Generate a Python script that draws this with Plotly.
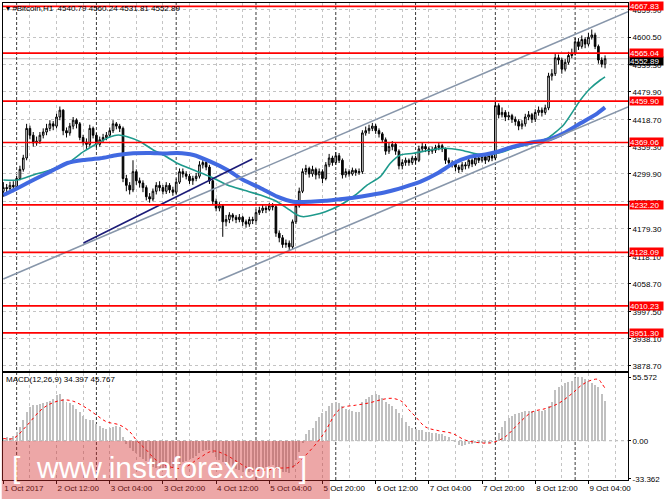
import plotly.graph_objects as go
from datetime import datetime, timedelta

# ---------------- data ----------------
start_time = datetime(2017, 10, 1, 20, 0)   # first H1 bar
first_open = 4262

closes = [4270, 4268, 4275, 4272, 4290, 4310, 4335, 4400, 4385, 4368,
          4372, 4385, 4392, 4400, 4410, 4405, 4425, 4440, 4395, 4390,
          4405, 4418, 4410, 4380, 4370, 4365, 4400, 4385, 4365, 4375,
          4380, 4385, 4395, 4410, 4405, 4400, 4290, 4275, 4265, 4305,
          4285, 4280, 4270, 4250, 4245, 4262, 4275, 4270, 4262, 4275,
          4265, 4260, 4282, 4305, 4300, 4295, 4285, 4290, 4295, 4320,
          4325, 4315, 4285, 4240, 4225, 4230, 4195, 4200, 4210, 4205,
          4200, 4205, 4195, 4190, 4200, 4198, 4215, 4220, 4225, 4222,
          4230, 4228, 4170, 4160, 4145, 4148, 4140, 4195, 4230, 4262,
          4305, 4312, 4300, 4310, 4298, 4305, 4290, 4320, 4335, 4325,
          4340, 4330, 4298, 4305, 4300, 4308, 4303, 4305, 4390, 4395,
          4400, 4405, 4395, 4388, 4375, 4350, 4360, 4365, 4350, 4318,
          4325, 4330, 4325, 4335, 4330, 4355, 4360, 4355, 4350, 4352,
          4358, 4362, 4355, 4330, 4325, 4322, 4315, 4310, 4320, 4318,
          4330, 4322, 4335, 4330, 4338, 4330, 4340, 4335, 4450, 4430,
          4435, 4425, 4428, 4420, 4415, 4405, 4410, 4425, 4430, 4420,
          4435, 4440, 4435, 4445, 4515, 4520, 4555, 4550, 4530, 4545,
          4560, 4565, 4590, 4580, 4595, 4585, 4600, 4605, 4580, 4550,
          4540.79, 4552.89]

highs = [4282, 4278, 4283, 4284, 4296, 4318, 4342, 4410, 4406, 4392,
         4382, 4392, 4400, 4410, 4418, 4416, 4432, 4448, 4442, 4402,
         4412, 4425, 4422, 4414, 4386, 4378, 4408, 4404, 4390, 4382,
         4388, 4392, 4402, 4418, 4414, 4410, 4404, 4298, 4282, 4330,
         4310, 4292, 4286, 4275, 4258, 4268, 4282, 4284, 4276, 4282,
         4280, 4272, 4290, 4312, 4312, 4306, 4300, 4296, 4302, 4328,
         4334, 4330, 4320, 4288, 4246, 4238, 4234, 4210, 4216, 4214,
         4210, 4212, 4208, 4200, 4206, 4206, 4222, 4228, 4232, 4230,
         4236, 4236, 4232, 4176, 4166, 4156, 4154, 4200, 4236, 4270,
         4312, 4320, 4316, 4318, 4314, 4312, 4310, 4326, 4344, 4340,
         4348, 4346, 4334, 4312, 4310, 4314, 4312, 4312, 4396, 4404,
         4408, 4412, 4410, 4400, 4392, 4380, 4368, 4372, 4370, 4354,
         4332, 4336, 4334, 4340, 4340, 4362, 4368, 4366, 4360, 4360,
         4364, 4368, 4366, 4358, 4336, 4330, 4328, 4320, 4326, 4326,
         4336, 4334, 4340, 4340, 4344, 4342, 4346, 4344, 4460, 4455,
         4446, 4440, 4436, 4432, 4426, 4420, 4418, 4432, 4438, 4434,
         4442, 4448, 4446, 4452, 4522, 4530, 4565, 4562, 4555, 4552,
         4568, 4575, 4600, 4598, 4604, 4600, 4610, 4617, 4610, 4584,
         4556, 4560.24]

lows = [4250, 4258, 4262, 4260, 4266, 4286, 4305, 4330, 4376, 4360,
        4362, 4366, 4378, 4385, 4394, 4396, 4400, 4418, 4385, 4380,
        4384, 4398, 4400, 4374, 4362, 4355, 4360, 4378, 4358, 4360,
        4368, 4374, 4380, 4390, 4398, 4392, 4282, 4262, 4255, 4260,
        4276, 4270, 4260, 4242, 4237, 4240, 4255, 4262, 4255, 4256,
        4258, 4252, 4256, 4278, 4292, 4288, 4278, 4276, 4284, 4290,
        4312, 4308, 4278, 4232, 4218, 4218, 4162, 4185, 4192, 4196,
        4192, 4194, 4186, 4182, 4184, 4190, 4194, 4210, 4214, 4214,
        4218, 4220, 4162, 4150, 4138, 4138, 4132, 4135, 4190, 4226,
        4258, 4298, 4292, 4294, 4288, 4290, 4280, 4286, 4315, 4318,
        4320, 4324, 4290, 4292, 4294, 4296, 4296, 4298, 4300, 4384,
        4388, 4394, 4388, 4380, 4368, 4342, 4344, 4352, 4342, 4310,
        4310, 4318, 4318, 4320, 4322, 4326, 4348, 4348, 4342, 4344,
        4346, 4352, 4348, 4322, 4318, 4314, 4306, 4302, 4304, 4310,
        4312, 4315, 4318, 4324, 4325, 4322, 4326, 4328, 4330, 4422,
        4424, 4416, 4418, 4412, 4406, 4396, 4398, 4404, 4418, 4412,
        4414, 4428, 4426, 4430, 4440, 4505, 4515, 4540, 4520, 4525,
        4540, 4554, 4560, 4572, 4575, 4576, 4580, 4595, 4574, 4542,
        4534, 4531.81]

opens = [first_open] + closes[:-1]

# moving averages (bar index, price)
ma_slow_idx = [0, 2.1, 5.1, 9.0, 14.1, 19.3, 24.1, 29.2, 34.3, 39.1, 44.2, 48.7, 52.3,
               57.2, 62.3, 67.4, 72.2, 77.3, 82.4, 87.2, 92.4, 96.9, 100.5, 105.3, 110.4,
               115.5, 120.3, 125.5, 130.6, 135.4, 140.5, 145.0, 148.6, 153.4, 158.5,
               163.7, 168.5, 173.6, 178.7, 181]
ma_slow_val = [4253.8, 4261.0, 4272.0, 4286.7, 4305.0, 4324.0, 4330.6, 4334.4, 4341.6,
               4345.3, 4346.0, 4345.0, 4346.0, 4341.6, 4326.9, 4308.7, 4286.7, 4269.2,
               4250.1, 4239.1, 4239.1, 4241.0, 4243.9, 4247.9, 4253.8, 4261.0, 4270.7,
               4283.0, 4301.4, 4323.4, 4337.9, 4342.7, 4348.8, 4359.8, 4368.6, 4374.5,
               4389.2, 4411.2, 4433.1, 4446.0]

ma_fast_idx = [0, 4.2, 9.0, 14.1, 19.3, 24.1, 29.2, 32.2, 34.6, 37.3, 41.2, 45.1, 48.7,
               52.3, 57.2, 62.3, 67.4, 72.2, 77.3, 82.4, 85.4, 88.4, 90.3, 93.3, 96.9,
               101.4, 105.9, 109.5, 113.4, 116.4, 119.4, 123.3, 128.5, 132.4, 137.5,
               141.4, 145.0, 148.6, 153.4, 159.4, 163.7, 168.5, 173.6, 176.6, 179.6, 181]
ma_fast_val = [4286.7, 4286.7, 4297.7, 4308.7, 4323.4, 4348.9, 4370.8, 4381.8, 4385.5,
               4381.8, 4370.8, 4352.6, 4339.4, 4323.4, 4308.7, 4294.0, 4275.8, 4264.8,
               4253.8, 4239.1, 4224.6, 4209.9, 4206.2, 4209.9, 4217.2, 4231.9, 4253.8,
               4275.8, 4294.0, 4323.4, 4341.6, 4345.3, 4352.6, 4356.3, 4352.6, 4345.3,
               4341.6, 4345.3, 4356.3, 4367.3, 4378.3, 4407.5, 4462.3, 4488.0, 4506.2,
               4513.0]

# MACD(12,26,9) main values (histogram) and signal line
macd = [2, 3, 2, 4, 8, 12, 18, 25, 29, 31,
        31, 32, 33, 34, 35, 36, 40, 41, 36, 34,
        33, 31, 28, 25, 22, 19, 18, 18, 15, 13,
        11, 10, 11, 12, 13, 12, 3, -3, -6, -9,
        -11, -14, -16, -18, -21, -23, -24, -25, -26, -26,
        -25, -24, -22, -21, -19, -18, -16, -15, -13, -11,
        -9, -8, -8, -11, -14, -17, -19, -21, -23, -24,
        -25, -26, -27, -27, -27, -27, -26, -26, -24, -23,
        -22, -21, -24, -26, -27, -27, -28, -24, -17, -10,
        -2, 6, 9, 11, 17, 21, 24, 26, 30, 33,
        34, 33, 30, 28, 27, 26, 25, 25, 34, 36,
        38, 40, 41, 40, 37, 34, 32, 30, 28, 24,
        20, 16, 13, 11, 10, 9, 9, 8, 8, 7,
        7, 6, 6, 4, 3, 1, -1, -4, -5, -4,
        -3, -3, -2, -2, -2, -2, -2, -1, 0, 7,
        12, 17, 20, 22, 23, 24, 25, 26, 26, 26,
        26, 26, 26, 27, 30, 34, 44, 47, 48, 50,
        51, 52, 55, 55.5, 55.6, 54, 52, 50, 49, 47,
        41, 34.397]

signal_idx = [0, 3, 7, 11, 14, 18, 21, 25, 28, 31, 35, 38, 40, 43, 46, 50, 54, 59, 63,
              67, 71, 75, 79, 83, 87, 91, 95, 97, 100, 102, 106, 110, 114, 117, 120,
              122, 124, 127, 131, 135, 139, 143, 147, 151, 155, 159, 163, 167, 171,
              174, 177, 179, 180, 181]
signal_val = [2, 2, 13, 26, 32, 35.5, 34.5, 28.5, 22.4, 16.6, 13.7, 7.9, 0.6, -8, -17,
              -22.7, -24, -15, -9, -12.5, -19.5, -25.6, -25.6, -24, -22.7, -12.5, 0.6,
              9, 24, 29, 31, 33, 36, 37, 34, 27, 21, 12, 8.7, 6.4, 0.5, -1.7, -1.7, 3.5,
              15, 25, 28, 32.6, 41, 48.6, 53, 53.5, 50, 45.767]

# horizontal levels and trend lines (bar index, price)
levels = [4667.83, 4565.04, 4459.90, 4369.06, 4232.20, 4128.09, 4010.23, 3951.30]
channel_upper_idx = [0, 187.9]
channel_upper_val = [4069.4, 4656.1]
channel_lower_idx = [64.7, 187.9]
channel_lower_val = [4066.0, 4447.0]
support_idx = [24.1, 74.9]
support_val = [4148.5, 4332.8]

price_ticks = [4659.90, 4600.50, 4539.30, 4479.90, 4418.70, 4359.30, 4299.90, 4238.70,
               4179.30, 4118.10, 4058.70, 3997.50, 3938.10, 3878.70]
macd_ticks = [55.572, 0.0, -33.362]
macd_ticktext = ["55.572", "0.00", "-33.362"]

# ---------------- figure ----------------
n = len(closes)
idx = list(range(n))

label_idx = list(range(0, 188, 16))
label_txt = []
for i in label_idx:
    t = start_time + timedelta(hours=i)
    if i == 0:
        label_txt.append(f"{t.day} {t.strftime('%b')} {t.year}")
    else:
        label_txt.append(f"{t.day} {t.strftime('%b')} {t.strftime('%H:%M')}")
minor_idx = list(range(8, 188, 16))
day_seps = [i for i in range(0, 188) if (start_time + timedelta(hours=i)).hour == 0]

FONT = "Liberation Sans"
FS = 8
GRID = "#C4C4C4"

fig = go.Figure()

fig.add_trace(go.Candlestick(
    x=idx, open=opens, high=highs, low=lows, close=closes,
    increasing=dict(fillcolor="white", line=dict(color="black", width=1)),
    decreasing=dict(fillcolor="black", line=dict(color="black", width=1)),
    whiskerwidth=0, xaxis="x", yaxis="y", showlegend=False, hoverinfo="skip"))

fig.add_trace(go.Scatter(x=ma_fast_idx, y=ma_fast_val, mode="lines",
                         line=dict(color="#1E9A8C", width=1.6, shape="spline", smoothing=0.6),
                         xaxis="x", yaxis="y", showlegend=False, hoverinfo="skip"))
fig.add_trace(go.Scatter(x=ma_slow_idx, y=ma_slow_val, mode="lines",
                         line=dict(color="#4169E1", width=4, shape="spline", smoothing=0.6),
                         xaxis="x", yaxis="y", showlegend=False, hoverinfo="skip"))

for xs, ys, col in [(channel_upper_idx, channel_upper_val, "#8796AA"),
                    (channel_lower_idx, channel_lower_val, "#8796AA"),
                    (support_idx, support_val, "#1C1C78")]:
    fig.add_trace(go.Scatter(x=xs, y=ys, mode="lines", line=dict(color=col, width=1.6),
                             xaxis="x", yaxis="y", showlegend=False, hoverinfo="skip"))

fig.add_trace(go.Bar(x=idx, y=macd, width=0.6, marker=dict(color="#C0C0C0", line=dict(width=0)),
                     xaxis="x2", yaxis="y2", showlegend=False, hoverinfo="skip"))
fig.add_trace(go.Scatter(x=signal_idx, y=signal_val, mode="lines",
                         line=dict(color="#FF0000", width=1, dash="dot", shape="spline"),
                         xaxis="x2", yaxis="y2", showlegend=False, hoverinfo="skip"))

shapes = []
for lv in levels:
    shapes.append(dict(type="line", xref="x domain", x0=0, x1=1, yref="y", y0=lv, y1=lv,
                       line=dict(color="#FF0000", width=1.7), layer="above"))
shapes.append(dict(type="line", xref="x domain", x0=0, x1=1, yref="y", y0=closes[-1], y1=closes[-1],
                   line=dict(color="#C0C0C0", width=1), layer="below"))
for d in day_seps:
    shapes.append(dict(type="line", xref="x", x0=d, x1=d, yref="paper", y0=0, y1=1,
                       line=dict(color="#3A3A3A", width=1, dash="3px,2px"), layer="below"))
shapes.append(dict(type="line", xref="x2 domain", x0=0, x1=1, yref="y2", y0=0, y1=0,
                   line=dict(color="#B0B0B0", width=1, dash="dot"), layer="below"))
# watermark band
shapes.append(dict(type="rect", xref="paper", x0=-0.002, x1=0.523, yref="paper", y0=-0.04, y1=0.0818,
                   fillcolor="rgba(212,45,45,0.42)", line=dict(width=0), layer="above"))

annotations = []
annotations.append(dict(xref="paper", yref="paper", x=0, y=1, xanchor="left", yanchor="top",
                        xshift=1, yshift=1, showarrow=False,
                        text="▾ #Bitcoin,H1  4540.79 4560.24 4531.81 4552.89",
                        font=dict(family=FONT, size=FS, color="black")))
annotations.append(dict(xref="paper", yref="paper", x=0, y=0.2243, xanchor="left", yanchor="top",
                        xshift=1, yshift=0, showarrow=False,
                        text="MACD(12,26,9) 34.397 45.767",
                        font=dict(family=FONT, size=FS, color="black")))
# current price box (drawn first so the level boxes sit on top of it)
annotations.append(dict(xref="paper", yref="y", x=1, y=closes[-1], xanchor="left", yanchor="middle",
                        xshift=1, yshift=-2, showarrow=False, text=f"{closes[-1]:.2f}", bgcolor="#000000",
                        width=33, height=8, align="left", valign="middle", borderpad=0,
                        font=dict(family=FONT, size=FS, color="white")))
for lv in levels:
    annotations.append(dict(xref="paper", yref="y", x=1, y=lv, xanchor="left", yanchor="middle",
                            xshift=1, showarrow=False, text=f"{lv:.2f}", bgcolor="#FF0000",
                            width=33, height=8, align="left", valign="middle", borderpad=0,
                            font=dict(family=FONT, size=FS, color="white")))
annotations.append(dict(xref="paper", yref="paper", x=0.25, y=0.026, xanchor="center", yanchor="middle",
                        showarrow=False,
                        text="[&nbsp;&nbsp;www.instaforex<span style='font-size:20px'>.com</span>&nbsp;&nbsp;]",
                        font=dict(family=FONT, size=30, color="white")))

axis_common = dict(showline=True, mirror=True, linecolor="black", linewidth=1, zeroline=False)

fig.update_layout(
    width=665, height=499,
    margin=dict(l=3, r=37, t=3, b=19),
    paper_bgcolor="white", plot_bgcolor="white",
    font=dict(family=FONT, size=FS, color="black"),
    showlegend=False, bargap=0, hovermode=False,
    xaxis=dict(domain=[0, 1], anchor="y", range=[-0.1, 187.9], rangeslider=dict(visible=False),
               tickvals=label_idx, ticktext=label_txt, showticklabels=False, ticks="",
               showgrid=True, gridcolor=GRID, griddash="dot", gridwidth=1,
               minor=dict(tickvals=minor_idx, showgrid=True, gridcolor=GRID, griddash="dot", ticks=""),
               **axis_common),
    xaxis2=dict(domain=[0, 1], anchor="y2", matches="x", range=[-0.1, 187.9],
                tickvals=label_idx, ticktext=label_txt, ticks="outside", ticklen=3, tickcolor="black",
                ticklabelposition="outside right", tickangle=0, tickfont=dict(size=FS),
                showgrid=True, gridcolor=GRID, griddash="dot", gridwidth=1,
                minor=dict(tickvals=minor_idx, showgrid=True, gridcolor=GRID, griddash="dot", ticks=""),
                **axis_common),
    yaxis=dict(domain=[0.2285, 1], anchor="x", side="right", range=[3867.5, 4675.2],
               tickvals=price_ticks, ticktext=[f"{v:.2f}" for v in price_ticks],
               ticks="outside", ticklen=2, tickcolor="black", tickfont=dict(size=FS),
               showgrid=True, gridcolor=GRID, griddash="dot", gridwidth=1, **axis_common),
    yaxis2=dict(domain=[0, 0.2243], anchor="x2", side="right", range=[-34.3, 59.1],
                tickvals=macd_ticks, ticktext=macd_ticktext, ticks="outside", ticklen=2,
                tickcolor="black", tickfont=dict(size=FS), showgrid=False, **axis_common),
    shapes=shapes, annotations=annotations,
)

fig.write_html("out.html", config={"displayModeBar": False, "staticPlot": True},
               post_script="document.body.style.margin='0';document.body.style.padding='0';")
